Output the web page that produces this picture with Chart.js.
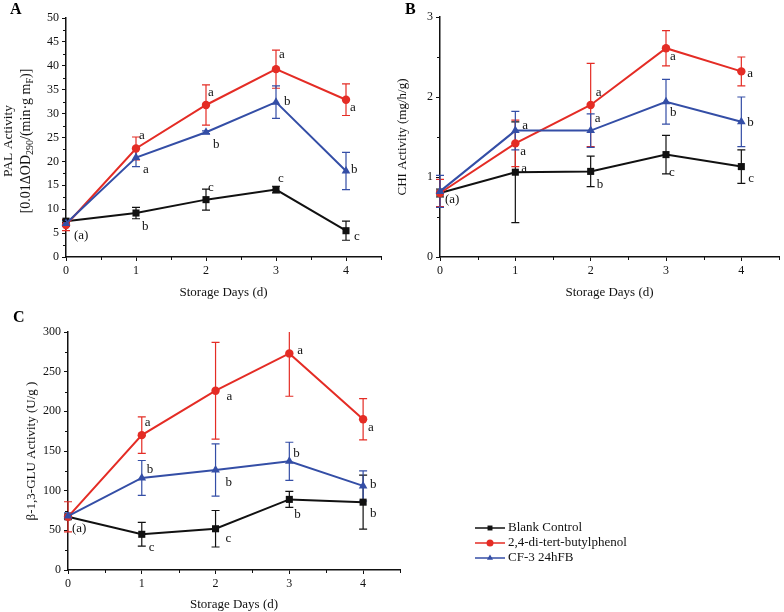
<!DOCTYPE html>
<html>
<head>
<meta charset="utf-8">
<script src="https://cdn.jsdelivr.net/npm/chart.js@4.4.1/dist/chart.umd.min.js"></script>
<style>
html, body { margin: 0; padding: 0; background: #fff; }
#wrap { position: relative; width: 784px; height: 612px; }
canvas { position: absolute; }
</style>
</head>
<body>
<div id="wrap">
  <canvas id="chartA" width="392" height="300" style="left:0;top:0"></canvas>
  <canvas id="chartB" width="392" height="300" style="left:392px;top:0"></canvas>
  <canvas id="chartC" width="784" height="312" style="left:0;top:300px"></canvas>
</div>
<script>
const days = [0, 1, 2, 3, 4];
const dayTicks = [0, 1, 2, 3, 4];
const dayMinorTicks = [0.5, 1.5, 2.5, 3.5, 4.5];
const seriesNames = ['Blank Control', '2,4-di-tert-butylphenol', 'CF-3 24hFB'];

// A - PAL activity
const palBlank = [7.5, 9.2, 12.0, 14.1, 5.5];
const palBlankErr = [0.3, 1.2, 2.2, 0.7, 2.0];
const palPhenol = [6.7, 22.7, 31.8, 39.3, 32.9];
const palPhenolErr = [1.2, 2.4, 4.2, 4.0, 3.3];
const palCF3 = [7.0, 20.8, 26.1, 32.4, 18.0];
const palCF3Err = [0.6, 1.9, 0.3, 3.4, 3.9];
const palLetters = [['(a)', 'b', 'c', 'c', 'c'], ['', 'a', 'a', 'a', 'a'], ['', 'a', 'b', 'b', 'b']];
const palTicks = [0, 5, 10, 15, 20, 25, 30, 35, 40, 45, 50];
const palMinorTicks = [2.5, 7.5, 12.5, 17.5, 22.5, 27.5, 32.5, 37.5, 42.5, 47.5];

// B - CHI activity
const chiBlank = [0.80, 1.06, 1.07, 1.28, 1.13];
const chiBlankErr = [0.05, 0.63, 0.19, 0.24, 0.21];
const chiPhenol = [0.80, 1.42, 1.90, 2.61, 2.32];
const chiPhenolErr = [0.17, 0.29, 0.52, 0.22, 0.18];
const chiCF3 = [0.82, 1.58, 1.58, 1.94, 1.69];
const chiCF3Err = [0.20, 0.24, 0.21, 0.28, 0.31];
const chiLetters = [['(a)', 'a', 'b', 'c', 'c'], ['', 'a', 'a', 'a', 'a'], ['', 'a', 'a', 'b', 'b']];
const chiTicks = [0, 1, 2, 3];
const chiMinorTicks = [0.5, 1.5, 2.5];

// C - beta-1,3-GLU activity
const gluBlank = [67, 45, 52, 89, 85.5];
const gluBlankErr = [2, 15, 23, 10, 34];
const gluPhenol = [67, 170, 226, 273, 190];
const gluPhenolErr = [19, 23, 61, 54, 26];
const gluCF3 = [68, 116, 126, 137, 106];
const gluCF3Err = [4, 22, 33, 24, 19];
const gluLetters = [['(a)', 'c', 'c', 'b', 'b'], ['', 'a', 'a', 'a', 'a'], ['', 'b', 'b', 'b', 'b']];
const gluTicks = [0, 50, 100, 150, 200, 250, 300];
const gluMinorTicks = [25, 75, 125, 175, 225, 275];

const black = 'rgb(17,17,17)';
const red = 'rgb(228,44,37)';
const blue = 'rgb(52,78,166)';
const serif = "'Liberation Serif', 'Times New Roman', serif";

// letter placement (dx, dy from the point), per series per day
const letterOffsets = {
    chartA: [
        [[8, 14], [6, 14], [2, -12], [2, -11], [8, 6]],
        [null, [3, -13], [2, -12], [3, -15], [4, 8]],
        [null, [7, 12], [7, 12], [8, -1], [5, -1]]
    ],
    chartB: [
        [[5, 7], [6, -4], [6, 13], [3, 18], [7, 12]],
        [null, [5, 8], [5, -12], [4, 8], [6, 2]],
        [null, [7, -5], [4, -12], [4, 11], [6, 1]]
    ],
    chartC: [
        [[4, 12], [7, 13], [10, 10], [5, 15], [7, 11]],
        [null, [3, -13], [11, 6], [8, -3], [5, 8]],
        [null, [5, -8], [10, 13], [4, -8], [7, -1]]
    ]
};

const panelInfo = {
    chartA: { letter: 'A', letterX: 10, letterY: 10, letters: palLetters, yMinor: palMinorTicks },
    chartB: { letter: 'B', letterX: 13, letterY: 10, letters: chiLetters, yMinor: chiMinorTicks },
    chartC: { letter: 'C', letterX: 13, letterY: 18, letters: gluLetters, yMinor: gluMinorTicks, legend: true }
};

function toPoints(values) {
    return days.map((d, i) => ({ x: d, y: values[i] }));
}

function makeDatasets(blank, blankErr, phenol, phenolErr, cf3, cf3Err) {
    return [
        { label: seriesNames[0], data: toPoints(blank), errors: blankErr, borderColor: black, backgroundColor: black,
          pointStyle: 'rect', pointRadius: 5, borderWidth: 2, pointBorderWidth: 0, clip: false, order: 2 },
        { label: seriesNames[1], data: toPoints(phenol), errors: phenolErr, borderColor: red, backgroundColor: red,
          pointStyle: 'circle', pointRadius: 4.2, borderWidth: 2, pointBorderWidth: 0, clip: false, order: 1 },
        { label: seriesNames[2], data: toPoints(cf3), errors: cf3Err, borderColor: blue, backgroundColor: blue,
          pointStyle: 'triangle', pointRadius: 5, borderWidth: 2, pointBorderWidth: 0, clip: false, order: 0 }
    ];
}

function drawErrorBars(chart) {
    const { ctx, chartArea, scales } = chart;
    ctx.save();
    ctx.beginPath();
    ctx.rect(chartArea.left - 10, chartArea.top, chartArea.width + 20, chartArea.height + 1);
    ctx.clip();
    chart.data.datasets.forEach(ds => {
        ctx.strokeStyle = ds.borderColor;
        ctx.lineWidth = 1.2;
        ds.data.forEach((p, i) => {
            const e = ds.errors[i];
            if (!e) return;
            const px = scales.x.getPixelForValue(p.x);
            const t = scales.y.getPixelForValue(p.y + e);
            const b = scales.y.getPixelForValue(p.y - e);
            ctx.beginPath();
            ctx.moveTo(px, t); ctx.lineTo(px, b);
            ctx.moveTo(px - 4, t); ctx.lineTo(px + 4, t);
            ctx.moveTo(px - 4, b); ctx.lineTo(px + 4, b);
            ctx.stroke();
        });
    });
    ctx.restore();
}

function drawLetters(chart) {
    const { ctx, scales } = chart;
    const info = panelInfo[chart.canvas.id];
    const offs = letterOffsets[chart.canvas.id];
    ctx.save();
    ctx.fillStyle = '#111';
    ctx.font = '13px ' + serif;
    ctx.textAlign = 'left';
    ctx.textBaseline = 'middle';
    chart.data.datasets.forEach((ds, s) => {
        ds.data.forEach((p, i) => {
            const txt = info.letters[s][i];
            if (!txt || !offs[s][i]) return;
            const px = scales.x.getPixelForValue(p.x);
            const py = scales.y.getPixelForValue(p.y);
            ctx.fillText(txt, px + offs[s][i][0], py + offs[s][i][1]);
        });
    });
    ctx.restore();
}

function drawMinorTicks(chart) {
    const { ctx, chartArea, scales } = chart;
    const info = panelInfo[chart.canvas.id];
    ctx.save();
    ctx.strokeStyle = '#111';
    ctx.lineWidth = 1;
    ctx.beginPath();
    dayMinorTicks.forEach(v => {
        const px = Math.round(scales.x.getPixelForValue(v)) + 0.5;
        ctx.moveTo(px, chartArea.bottom);
        ctx.lineTo(px, chartArea.bottom + 3);
    });
    info.yMinor.forEach(v => {
        const py = Math.round(scales.y.getPixelForValue(v)) + 0.5;
        ctx.moveTo(chartArea.left - 3, py);
        ctx.lineTo(chartArea.left, py);
    });
    ctx.stroke();
    ctx.restore();
}

function drawPalTitle(chart) {
    const { ctx } = chart;
    const cy = 141;
    ctx.save();
    ctx.fillStyle = '#111';
    ctx.textBaseline = 'middle';
    ctx.translate(8.5, cy);
    ctx.rotate(-Math.PI / 2);
    ctx.font = '13.5px ' + serif;
    ctx.textAlign = 'center';
    ctx.fillText('PAL Activity', 0, 0);
    ctx.restore();

    const parts = [
        { t: '[0.01ΔOD', sub: false }, { t: '290', sub: true },
        { t: '/(min·g m', sub: false }, { t: 'F', sub: true }, { t: ')]', sub: false }
    ];
    ctx.save();
    ctx.fillStyle = '#111';
    ctx.textBaseline = 'middle';
    ctx.textAlign = 'left';
    ctx.translate(26, cy);
    ctx.rotate(-Math.PI / 2);
    let total = 0;
    parts.forEach(p => {
        ctx.font = (p.sub ? '10px ' : '14px ') + serif;
        p.w = ctx.measureText(p.t).width;
        total += p.w;
    });
    let xx = -total / 2;
    parts.forEach(p => {
        ctx.font = (p.sub ? '10px ' : '14px ') + serif;
        ctx.fillText(p.t, xx, p.sub ? 4 : 0);
        xx += p.w;
    });
    ctx.restore();
}

function drawLegend(chart) {
    const { ctx } = chart;
    const x0 = 475, x1 = 505, rows = [228, 243, 258];
    ctx.save();
    chart.data.datasets.forEach((ds, i) => {
        const y = rows[i];
        ctx.strokeStyle = ds.borderColor;
        ctx.lineWidth = 1.5;
        ctx.beginPath();
        ctx.moveTo(x0, y); ctx.lineTo(x1, y);
        ctx.stroke();
        ctx.fillStyle = ds.backgroundColor;
        Chart.helpers.drawPoint(ctx, { pointStyle: ds.pointStyle, radius: 3.5, rotation: 0, borderWidth: 0 }, (x0 + x1) / 2, y);
        ctx.fillStyle = '#111';
        ctx.font = '13px ' + serif;
        ctx.textAlign = 'left';
        ctx.textBaseline = 'middle';
        ctx.fillText(ds.label, x1 + 3, y);
    });
    ctx.restore();
}

const decorPlugin = {
    id: 'decor',
    beforeDatasetsDraw(chart) { drawErrorBars(chart); },
    afterDatasetsDraw(chart) { drawLetters(chart); },
    afterDraw(chart) {
        const { ctx } = chart;
        const info = panelInfo[chart.canvas.id];
        drawMinorTicks(chart);
        ctx.save();
        ctx.fillStyle = '#000';
        ctx.font = 'bold 16px ' + serif;
        ctx.textAlign = 'left';
        ctx.textBaseline = 'middle';
        ctx.fillText(info.letter, info.letterX, info.letterY);
        ctx.restore();
        if (chart.canvas.id === 'chartA') drawPalTitle(chart);
        if (info.legend) drawLegend(chart);
    }
};

function makePanel(id, datasets, yMax, yTicks, yTitle, yTitlePad, yWidth, xHeight, padding) {
    return new Chart(document.getElementById(id), {
        type: 'line',
        data: { datasets: datasets },
        plugins: [decorPlugin],
        options: {
            responsive: false,
            animation: false,
            events: [],
            layout: { padding: padding },
            plugins: { legend: { display: false }, tooltip: { enabled: false } },
            scales: {
                x: {
                    type: 'linear', min: 0, max: 4.5,
                    afterBuildTicks: s => { s.ticks = dayTicks.map(v => ({ value: v })); },
                    afterFit: s => { s.height = xHeight; },
                    grid: { display: true, drawOnChartArea: false, tickLength: 4, color: '#111', tickWidth: 1 },
                    border: { display: true, color: '#111', width: 1.5 },
                    ticks: { color: '#111', font: { family: serif, size: 12 }, padding: 3 },
                    title: { display: true, text: 'Storage Days (d)', color: '#111',
                             font: { family: serif, size: 13 }, padding: { top: 0, bottom: 0 } }
                },
                y: {
                    min: 0, max: yMax,
                    afterBuildTicks: s => { s.ticks = yTicks.map(v => ({ value: v })); },
                    afterFit: s => { s.width = yWidth; },
                    grid: { display: true, drawOnChartArea: false, tickLength: 4, color: '#111', tickWidth: 1 },
                    border: { display: true, color: '#111', width: 1.5 },
                    ticks: { color: '#111', font: { family: serif, size: 12 }, padding: 3 },
                    title: { display: !!yTitle, text: yTitle, color: '#111',
                             font: { family: serif, size: 13 }, padding: { top: yTitlePad, bottom: 0 } }
                }
            }
        }
    });
}

makePanel('chartA', makeDatasets(palBlank, palBlankErr, palPhenol, palPhenolErr, palCF3, palCF3Err),
    50, palTicks, '', 0, 66, 43, { left: 0, top: 18, right: 11, bottom: 0 });
makePanel('chartB', makeDatasets(chiBlank, chiBlankErr, chiPhenol, chiPhenolErr, chiCF3, chiCF3Err),
    3, chiTicks, 'CHI Activity (mg/h/g)', 3, 48, 43, { left: 0, top: 17, right: 1, bottom: 0 });
makePanel('chartC', makeDatasets(gluBlank, gluBlankErr, gluPhenol, gluPhenolErr, gluCF3, gluCF3Err),
    300, gluTicks, 'β-1,3-GLU Activity (U/g )', 24, 68, 42, { left: 0, top: 32, right: 384, bottom: 0 });
</script>
</body>
</html>
